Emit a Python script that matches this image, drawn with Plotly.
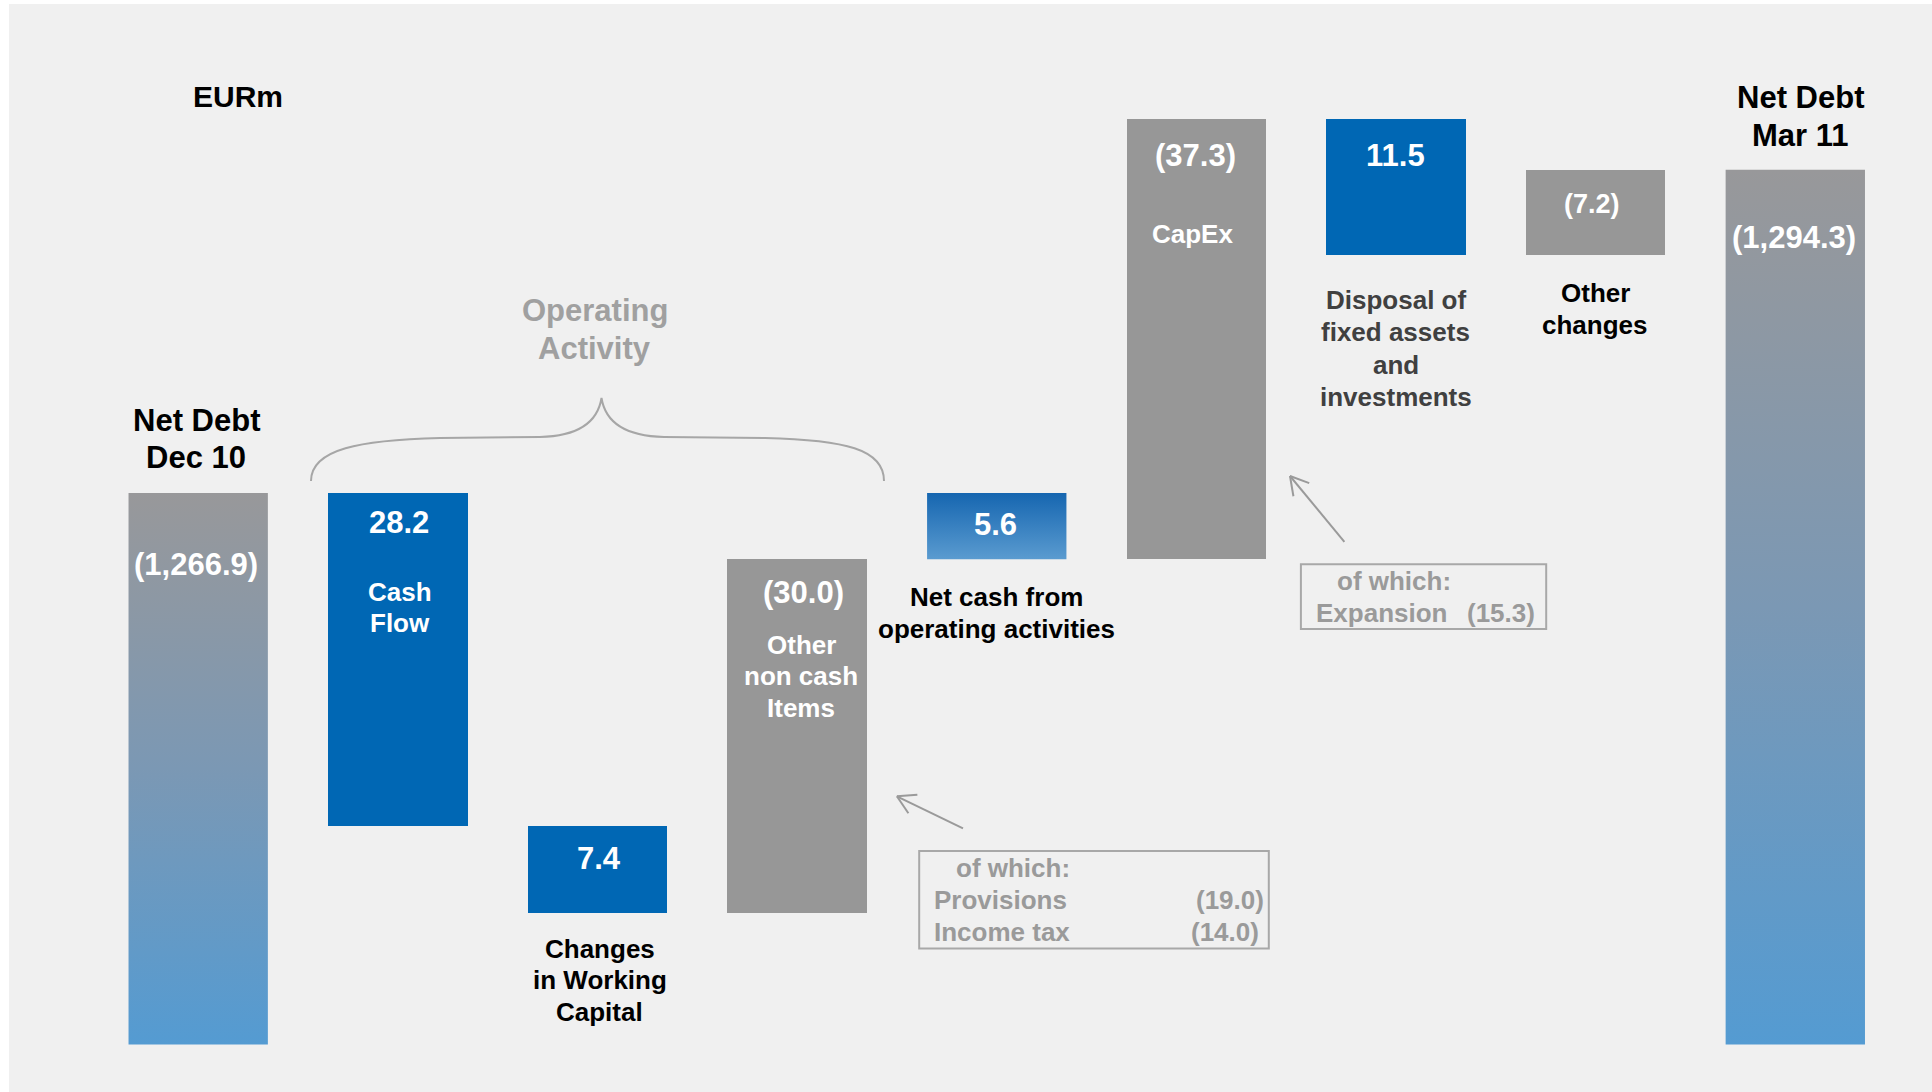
import math
import plotly.graph_objects as go

W, H = 1932, 1092

# ---------------- data ----------------
categories = ["Net Debt<br>Dec 10", "Cash<br>Flow", "Changes<br>in Working<br>Capital",
              "Other<br>non cash<br>Items", "Net cash from<br>operating activities", "CapEx",
              "Disposal of<br>fixed assets<br>and<br>investments", "Other<br>changes",
              "Net Debt<br>Mar 11"]
values = [-1266.9, 28.2, 7.4, -30.0, 5.6, -37.3, 11.5, -7.2, -1294.3]
kinds = ["total", "delta", "delta", "delta", "subtotal", "delta", "delta", "delta", "total"]
other_items_labels = ["Provisions", "Income tax"]
other_items_values = [-19.0, -14.0]
capex_items_labels = ["Expansion"]
capex_items_values = [-15.3]
unit_label = "EURm"
group_label = ["Operating", "Activity"]

# ---------------- styles ----------------
FONT = "Liberation Sans, Arial, sans-serif"
BLUE = "#0067b4"
GRAY = "#979797"
BG = "#f0f0f0"
NOTE = "#9a9a9a"
AXIS_BASE = 1220.2
BAR_W = 0.698
Y_RANGE = [1216.17, 1308.67]
X_RANGE = [-0.9928, 8.6847]


def fmt(v):
    return f"({abs(v):,.1f})" if v < 0 else f"{v:,.1f}"


# ---------------- waterfall geometry from data ----------------
bases, tops = [], []
level = None
for v, k in zip(values, kinds):
    if k == "total":
        level = -v
        bases.append(AXIS_BASE)
        tops.append(level)
    elif k == "delta":
        new = level - v
        bases.append(min(level, new))
        tops.append(max(level, new))
        level = new
    else:  # subtotal of preceding flows
        bases.append(min(level, level + v))
        tops.append(max(level, level + v))

fig = go.Figure()

# solid bars
solid_idx = [i for i, k in enumerate(kinds) if k == "delta"]
fig.add_trace(go.Bar(
    x=solid_idx,
    y=[tops[i] - bases[i] for i in solid_idx],
    base=[bases[i] for i in solid_idx],
    width=BAR_W,
    marker=dict(color=[BLUE if values[i] > 0 else GRAY for i in solid_idx], line=dict(width=0)),
    hoverinfo="skip", showlegend=False,
))

# gradient bars (totals & subtotal)
for i, k in enumerate(kinds):
    if k == "delta":
        continue
    if k == "total":
        cs = [[0, "#549bd2"], [0.5, "#7b98b4"], [1, "#98989a"]]
    else:
        cs = [[0, "#5a9bd0"], [1, "#1666b0"]]
    x0, x1 = i - BAR_W / 2, i + BAR_W / 2
    fig.add_trace(go.Scatter(
        x=[x0, x1, x1, x0, x0],
        y=[bases[i], bases[i], tops[i], tops[i], bases[i]],
        mode="lines", fill="toself",
        fillgradient=dict(type="vertical", colorscale=cs),
        line=dict(width=0, color="rgba(0,0,0,0)"),
        hoverinfo="skip", showlegend=False,
    ))


# ---------------- helpers ----------------
def px(x):
    return x / W


def py(y):
    return 1 - y / H


anns = []


def text(s, x, y, size, color, anchor="center"):
    anns.append(dict(text=s, x=px(x), y=py(y), xref="paper", yref="paper",
                     xanchor=anchor, yanchor="middle", showarrow=False,
                     borderpad=0, borderwidth=0,
                     font=dict(family=FONT, size=size, color=color, weight="bold")))


# value labels inside bars
value_pos = [(196.2, 564.2), (399, 522.7), (598.9, 858.6), (803.8, 592.5), (995.7, 524),
             (1195.5, 156), (1395.8, 155.4), (1591.5, 203.6), (1794, 237.5)]
value_size = [31, 31, 31, 31, 31, 31, 31, 27, 31]
for v, (x, y), s in zip(values, value_pos, value_size):
    text(fmt(v), x, y, s, "white")

# category labels (center x, first line y, line step, size, colour)
cat_style = [
    (196, 420.7, 36.3, 31, "black"),
    (399.6, 591.7, 31.7, 26, "white"),
    (599.5, 948.5, 31.5, 26, "black"),
    (801, 644.6, 31.5, 26, "white"),
    (996.3, 597, 32.1, 26, "black"),
    (1192, 234, 32, 26, "white"),
    (1395.5, 300, 32.3, 26, "#404040"),
    (1595, 293, 32, 26, "black"),
    (1800, 97, 38, 31, "black"),
]
for cat, (cx, y0, dy, s, col) in zip(categories, cat_style):
    for j, line in enumerate(cat.split("<br>")):
        text(line, cx, y0 + j * dy, s, col)

# unit & group labels
text(unit_label, 238.2, 96.4, 30, "black")
for j, line in enumerate(group_label):
    text(line, 594.5, 310 + j * 38.2, 31, "#a0a0a0")

# note box: other non cash items
text("of which:", 955.8, 868, 26, NOTE, "left")
for j, (lab, v) in enumerate(zip(other_items_labels, other_items_values)):
    yy = 900 + j * 31.5
    text(lab, 934, yy, 26, NOTE, "left")
    text(fmt(v), 1263.8 - j * 4.4, yy, 26, NOTE, "right")

# note box: capex
text("of which:", 1337, 581.2, 26, NOTE, "left")
for j, (lab, v) in enumerate(zip(capex_items_labels, capex_items_values)):
    yy = 612.5 + j * 31.5
    text(lab, 1316.1, yy, 26, NOTE, "left")
    text(fmt(v), 1535, yy, 26, NOTE, "right")

# ---------------- shapes ----------------
shapes = [dict(type="rect", xref="paper", yref="paper", x0=px(9), x1=1, y0=0, y1=py(4),
               fillcolor=BG, line=dict(width=0), layer="below")]

for (x0, y0, x1, y1) in [(919.2, 851, 1268.8, 948.5), (1300.9, 564.2, 1546.2, 629.1)]:
    shapes.append(dict(type="rect", xref="paper", yref="paper",
                       x0=px(x0), x1=px(x1), y0=py(y1), y1=py(y0),
                       line=dict(color="#a8a8a8", width=2), fillcolor="rgba(0,0,0,0)"))


def arrow(tail, tip, length=20.5, ang=30):
    dx, dy = tail[0] - tip[0], tail[1] - tip[1]
    base = math.atan2(dy, dx)
    segs = [(tail, tip)]
    for a in (ang, -ang):
        t = base + math.radians(a)
        segs.append((tip, (tip[0] + length * math.cos(t), tip[1] + length * math.sin(t))))
    for (a, b) in segs:
        shapes.append(dict(type="line", xref="paper", yref="paper",
                           x0=px(a[0]), y0=py(a[1]), x1=px(b[0]), y1=py(b[1]),
                           line=dict(color="#9a9a9a", width=2)))


arrow((963, 828.4), (896.9, 796.3))
arrow((1344.4, 541.8), (1290, 476))

# curly brace (pixel path -> paper)
brace = [("M", [(311, 481)]),
         ("C", [(311, 449), (360, 440), (440, 438)]),
         ("L", [(540, 437)]),
         ("C", [(582, 436), (598, 420), (601.5, 398)]),
         ("C", [(605, 420), (622, 436), (664, 437)]),
         ("L", [(765, 438)]),
         ("C", [(845, 440), (884, 449), (884, 481)])]
path = " ".join(cmd + " " + " ".join(f"{px(x):.5f},{py(y):.5f}" for x, y in pts)
                for cmd, pts in brace)
shapes.append(dict(type="path", xref="paper", yref="paper", path=path,
                   line=dict(color="#a6a6a6", width=2)))

fig.update_layout(
    width=W, height=H,
    margin=dict(l=0, r=0, t=0, b=0),
    paper_bgcolor="white", plot_bgcolor="rgba(0,0,0,0)",
    barmode="overlay", bargap=0,
    xaxis=dict(range=X_RANGE, visible=False, fixedrange=True),
    yaxis=dict(range=Y_RANGE, visible=False, fixedrange=True),
    shapes=shapes, annotations=anns, showlegend=False,
)

fig.write_html("out.html", config={"displayModeBar": False})
